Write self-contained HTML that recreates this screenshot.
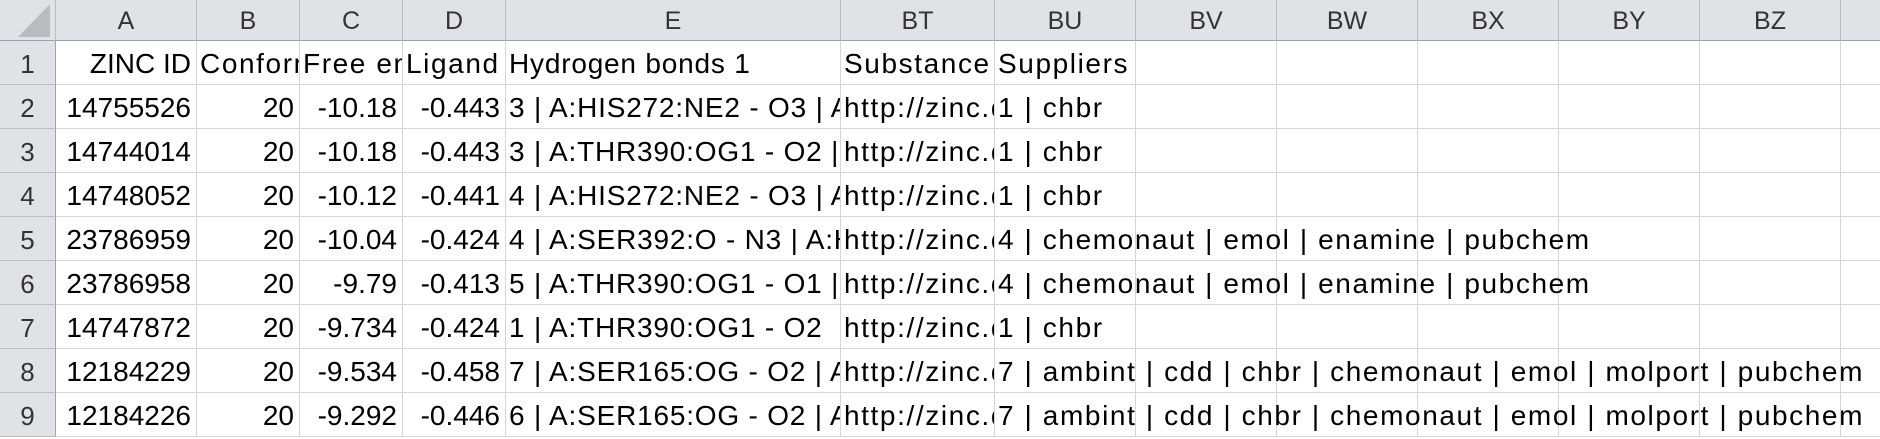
<!DOCTYPE html>
<html><head><meta charset="utf-8"><style>
body{margin:0;width:1880px;height:438px;overflow:hidden;background:#fff;font-family:"Liberation Sans",sans-serif;position:relative}
.h{position:absolute;top:0;height:40px;background:#dfe3e8;border-right:1px solid #b9bec4;border-bottom:1px solid #9da3aa;color:#333;font-size:25px;text-align:center;line-height:42px}
.r{position:absolute;left:0;width:55px;height:43px;background:#dfe3e8;border-right:1px solid #9da3aa;border-bottom:1px solid #b9bec4;color:#333;font-size:26px;text-align:center;line-height:46px}
.c{position:absolute;height:43px;border-right:1px solid #d6d6d6;border-bottom:1px solid #d6d6d6;font-size:28px;line-height:46px;white-space:nowrap;overflow:hidden;color:#000;box-sizing:content-box}
.R{text-align:right;padding-right:5px}
.L{padding-left:3px;letter-spacing:1.6px}
.E{letter-spacing:0.8px}
</style></head><body>
<div class="h" style="left:0;width:55px"><svg width="55" height="40" style="position:absolute;left:0;top:0"><polygon points="50,4 50,37 18,37" fill="#b8bcc0"/></svg></div>
<div class="h" style="left:56px;width:140px">A</div>
<div class="h" style="left:197px;width:102px">B</div>
<div class="h" style="left:300px;width:102px">C</div>
<div class="h" style="left:403px;width:102px">D</div>
<div class="h" style="left:506px;width:334px">E</div>
<div class="h" style="left:841px;width:153px">BT</div>
<div class="h" style="left:995px;width:140px">BU</div>
<div class="h" style="left:1136px;width:140px">BV</div>
<div class="h" style="left:1277px;width:140px">BW</div>
<div class="h" style="left:1418px;width:140px">BX</div>
<div class="h" style="left:1559px;width:140px">BY</div>
<div class="h" style="left:1700px;width:140px">BZ</div>
<div class="h" style="left:1841px;width:60px"></div>
<div id="g"></div>
<script>
var cols=[[56,141],[197,103],[300,103],[403,103],[506,335],[841,154],[995,141],[1136,141],[1277,141],[1418,141],[1559,141],[1700,141],[1841,60]];
var rows=[
["ZINC ID","Conformations","Free energy","Ligand efficiency","Hydrogen bonds 1","Substance id","Suppliers"],
["14755526","20","-10.18","-0.443","3 | A:HIS272:NE2 - O3 | A:HIS","http://zinc.docking.org","1 | chbr"],
["14744014","20","-10.18","-0.443","3 | A:THR390:OG1 - O2 | A:HIS","http://zinc.docking.org","1 | chbr"],
["14748052","20","-10.12","-0.441","4 | A:HIS272:NE2 - O3 | A:HIS","http://zinc.docking.org","1 | chbr"],
["23786959","20","-10.04","-0.424","4 | A:SER392:O - N3 | A:HIS","http://zinc.docking.org","4 | chemonaut | emol | enamine | pubchem"],
["23786958","20","-9.79","-0.413","5 | A:THR390:OG1 - O1 | A:HIS","http://zinc.docking.org","4 | chemonaut | emol | enamine | pubchem"],
["14747872","20","-9.734","-0.424","1 | A:THR390:OG1 - O2","http://zinc.docking.org","1 | chbr"],
["12184229","20","-9.534","-0.458","7 | A:SER165:OG - O2 | A:HIS","http://zinc.docking.org","7 | ambint | cdd | chbr | chemonaut | emol | molport | pubchem"],
["12184226","20","-9.292","-0.446","6 | A:SER165:OG - O2 | A:HIS","http://zinc.docking.org","7 | ambint | cdd | chbr | chemonaut | emol | molport | pubchem"]];
var h="";
for(var i=0;i<9;i++){var t=41+i*44;
h+='<div class="r" style="top:'+t+'px">'+(i+1)+'</div>';
for(var j=0;j<cols.length;j++){var x=cols[j][0],w=cols[j][1]-1;
h+='<div class="c" style="left:'+x+'px;top:'+t+'px;width:'+w+'px"></div>';}
for(var j=0;j<7;j++){var x=cols[j][0],w=cols[j][1]-1,txt=rows[i][j];
var right=(j<4&&!(i==0&&j>0));
var cls=right?"c R":"c L";
if(j==4)cls+=" E";
if(j==6){w=1880-x;}
var pad=right?5:3;
h+='<div class="'+cls+'" style="border:none;left:'+x+'px;top:'+t+'px;width:'+(w-pad)+'px">'+txt+'</div>';}
}
document.getElementById("g").innerHTML=h;
</script>
</body></html>
